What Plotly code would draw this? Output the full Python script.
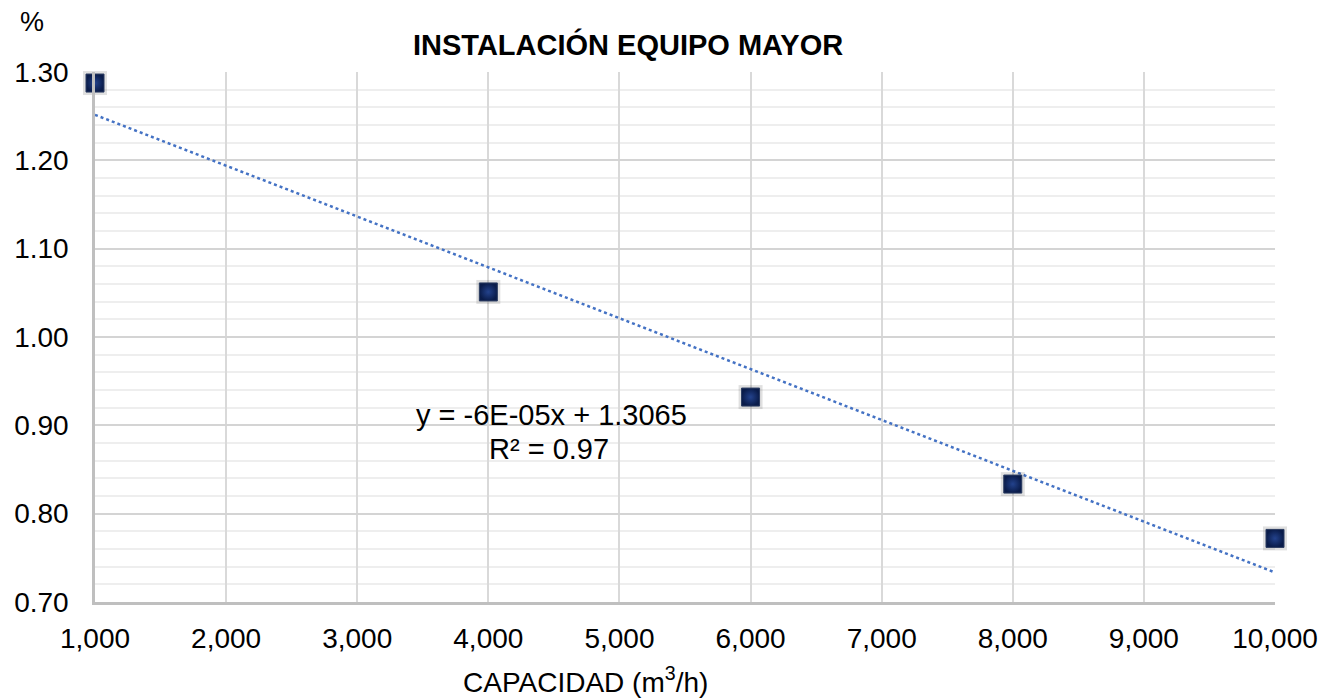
import plotly.graph_objects as go
import numpy as np


# datos
capacidad = [1000, 4000, 6000, 8000, 10000]
porcentaje = [1.2875, 1.051, 0.932, 0.8335, 0.772]

titulo = "<b>INSTALACIÓN EQUIPO MAYOR</b>"
eje_x = "CAPACIDAD (m<sup>3</sup>/h)"
eje_y = "%"
ecuacion = "y = -6E-05x + 1.3065"
r2 = "R² = 0.97"


# linea de tendencia lineal
m, b = np.polyfit(capacidad, porcentaje, 1)
x_tend = [capacidad[0], capacidad[-1]]
y_tend = [m * x + b for x in x_tend]

FONT = "Liberation Sans, Arial, sans-serif"

W, H = 1340, 698
OFF = 8  # margen del body de la pagina html
L, T, R, B = 95 - OFF, 72 - OFF, W - (1275 - OFF), H - (602 - OFF)

fig = go.Figure()

fig.add_trace(
    go.Scatter(
        x=x_tend,
        y=y_tend,
        mode="lines",
        line=dict(color="#4472C4", width=2.5, dash="dot"),
        showlegend=False,
        hoverinfo="skip",
        cliponaxis=False
    )
)

# sombra suave de los marcadores
fig.add_trace(
    go.Scatter(
        x=capacidad,
        y=porcentaje,
        mode="markers",
        marker=dict(symbol="square", size=24, color="rgba(0,0,0,0.12)", line=dict(width=0)),
        showlegend=False,
        hoverinfo="skip",
        cliponaxis=False
    )
)

fig.add_trace(
    go.Scatter(
        x=capacidad,
        y=porcentaje,
        mode="markers",
        marker=dict(
            symbol="square",
            size=18,
            color="#0a1c4a",
            gradient=dict(type="radial", color="#23428c"),
            line=dict(color="#2a3b60", width=1)
        ),
        showlegend=False,
        cliponaxis=False
    )
)

fig.update_layout(
    width=W,
    height=H,
    template="plotly_white",
    paper_bgcolor="white",
    plot_bgcolor="white",
    margin=dict(l=L, r=R, t=T, b=B, autoexpand=False),
    font=dict(family=FONT, size=28, color="black"),
    xaxis=dict(
        range=[1000, 10000],
        dtick=1000,
        tickformat=",",
        showgrid=True,
        gridcolor="#d9d9d9",
        gridwidth=1.5,
        showline=True,
        linecolor="#bfbfbf",
        linewidth=2.5,
        zeroline=False,
        ticks="",
        automargin=False,
        ticklabelstandoff=10,
        tickfont=dict(size=28)
    ),
    yaxis=dict(
        range=[0.70, 1.30],
        dtick=0.1,
        tickformat=".2f",
        showgrid=True,
        gridcolor="#d4d4d4",
        gridwidth=1.5,
        minor=dict(dtick=0.02, showgrid=True, gridcolor="#eeeeee", gridwidth=1.5),
        showline=True,
        linecolor="#bfbfbf",
        linewidth=2.5,
        zeroline=False,
        ticks="",
        automargin=False,
        ticklabelstandoff=18,
        tickfont=dict(size=28)
    ),
    annotations=[
        dict(text=titulo, x=628, y=44, font=dict(size=29)),
        dict(text=eje_y, x=32, y=22, font=dict(size=27)),
        dict(text=eje_x, x=585, y=680, font=dict(size=28)),
        dict(text=ecuacion, x=551, y=415, font=dict(size=29)),
        dict(text=r2, x=549, y=449, font=dict(size=29)),
    ]
)

# convertir posiciones (pixeles de la captura) a coordenadas paper
pw = W - L - R
ph = H - T - B
for a in fig.layout.annotations:
    a.x = (a.x - OFF - L) / pw
    a.y = 1 - (a.y - OFF - T) / ph
    a.xref = "paper"
    a.yref = "paper"
    a.xanchor = "center"
    a.yanchor = "middle"
    a.showarrow = False

fig.write_html("out.html")
